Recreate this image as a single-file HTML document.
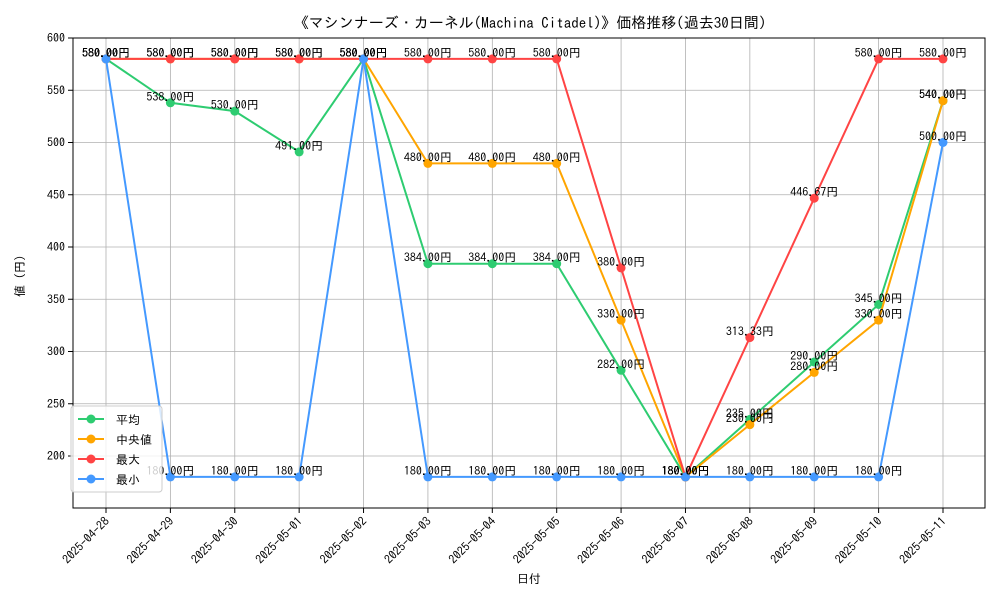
<!DOCTYPE html>
<html><head><meta charset="utf-8">
<style>
body{margin:0;background:#fff;}
svg text{font-family:"IPAGothic","Liberation Mono","Noto Sans CJK JP",monospace;}
</style></head>
<body>
<svg id="chart" width="1000" height="600" xmlns="http://www.w3.org/2000/svg"></svg>
<script>
const categories=["2025-04-28","2025-04-29","2025-04-30","2025-05-01","2025-05-02","2025-05-03","2025-05-04","2025-05-05","2025-05-06","2025-05-07","2025-05-08","2025-05-09","2025-05-10","2025-05-11"];
const avgValues=[580,538,530,491,580,384,384,384,282,180,235,290,345,540];
const medianValues=[580,580,580,580,580,480,480,480,330,180,230,280,330,540];
const maxValues=[580,580,580,580,580,580,580,580,380,180,313.33,446.67,580,580];
const minValues=[580,180,180,180,580,180,180,180,180,180,180,180,180,500];
const yTicks=[200,250,300,350,400,450,500,550,600];
const seriesNames=["平均","中央値","最大","最小"];
const colors=["#2ecc71","#ffa500","#ff4444","#4499ff"];

const svg=document.getElementById('chart');
const NS="http://www.w3.org/2000/svg";
const L=73,R=985,T=38,B=508;
const x0=106,x1=943;
function xs(i){return x0+(x1-x0)*i/(categories.length-1);}
function ys(v){return 456-(v-200)*(418/400);}
function mk(tag,attrs,parent){const e=document.createElementNS(NS,tag);for(const k in attrs)e.setAttribute(k,attrs[k]);(parent||svg).appendChild(e);return e;}

const title=mk('text',{x:530,y:28,'text-anchor':'middle','font-size':15});


title.textContent="《マシンナーズ・カーネル(Machina Citadel)》価格推移(過去30日間)";

const grid=mk('g',{});


categories.forEach((c,i)=>{
  mk('line',{x1:xs(i),x2:xs(i),y1:T,y2:B,stroke:'#b0b0b0','stroke-width':0.8},grid);
  mk('line',{x1:xs(i),x2:xs(i),y1:B,y2:B+5,stroke:'#000'},grid);
  const t=mk('text',{x:0,y:0,'text-anchor':'end','font-size':12,transform:`translate(${xs(i)+4},${B+14}) rotate(-45)`});
  
  
  t.textContent=c;
});
yTicks.forEach(v=>{
  mk('line',{x1:L,x2:R,y1:ys(v),y2:ys(v),stroke:'#b0b0b0','stroke-width':0.8},grid);
  mk('line',{x1:L-5,x2:L,y1:ys(v),y2:ys(v),stroke:'#000'},grid);
  const t=mk('text',{x:L-8,y:ys(v)+4,'text-anchor':'end','font-size':12});
  
  
  t.textContent=v;
});
const frame=mk('rect',{x:L,y:T,width:R-L,height:B-T,fill:'none',stroke:'#000','stroke-width':1});



const xt=mk('text',{x:(L+R)/2,y:583,'text-anchor':'middle','font-size':12});


xt.textContent="日付";
const yt=mk('text',{x:0,y:0,'text-anchor':'middle','font-size':12,transform:`translate(24,${(T+B)/2}) rotate(-90)`});


yt.textContent="値（円）";

const allSeries=[avgValues,medianValues,maxValues,minValues];
const keys=['avg','median','max','min'];
allSeries.forEach((vals,s)=>{
  const g=mk('g',{});
  
  
  const pts=vals.map((v,i)=>xs(i)+','+ys(v)).join(' ');
  const pl=mk('polyline',{points:pts,fill:'none',stroke:colors[s],'stroke-width':2},g);
  
  
  vals.forEach((v,i)=>{
    const c=mk('circle',{cx:xs(i),cy:ys(v),r:4.5,fill:colors[s]},g);
    
    
  });
});
allSeries.forEach((vals,s)=>{
  vals.forEach((v,i)=>{
    const t=mk('text',{x:xs(i),y:ys(v)-2,'text-anchor':'middle','font-size':12});
    
    
    t.textContent=v.toFixed(2)+"円";
  });
});

const lg=mk('g',{});


mk('rect',{x:71,y:406,width:91,height:86,rx:3,fill:'#fff','fill-opacity':0.8,stroke:'#ccc'},lg);
seriesNames.forEach((n,s)=>{
  const y=419+s*20;
  const e=mk('g',{},lg);
  
  
  mk('line',{x1:78,x2:104,y1:y,y2:y,stroke:colors[s],'stroke-width':2},e);
  mk('circle',{cx:91,cy:y,r:4.5,fill:colors[s]},e);
  const t=mk('text',{x:116,y:y+5,'font-size':12},e);
  t.textContent=n;
});
</script>
</body></html>
